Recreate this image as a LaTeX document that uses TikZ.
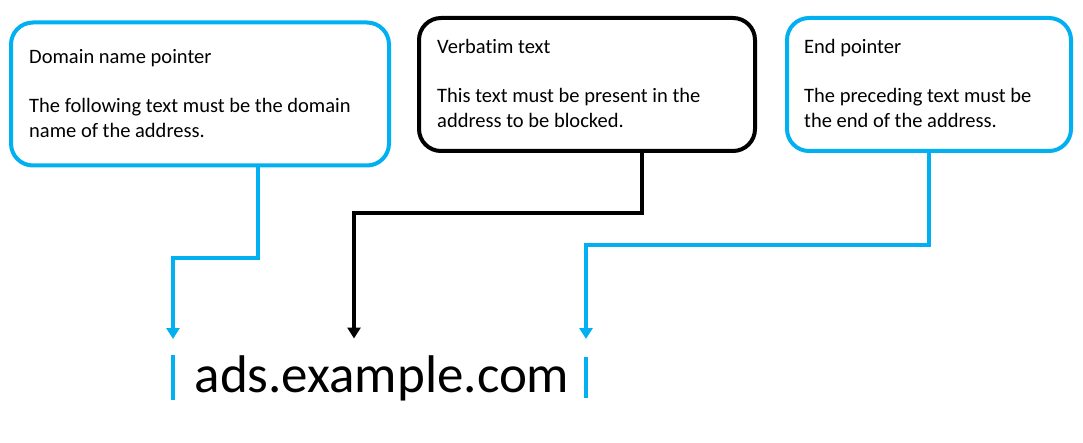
\documentclass[tikz,border=0pt]{standalone}
\usepackage{fontspec}
\setmainfont{Carlito}[Ligatures=NoCommon]
\usetikzlibrary{arrows.meta}
\definecolor{ablue}{HTML}{00B0F0}
\begin{document}
\begin{tikzpicture}[x=1pt,y=-1pt,
  box/.style={draw, line width=4pt, rounded corners=22pt, outer sep=0pt, inner sep=0pt, anchor=north west},
  txt/.style={anchor=base west, inner sep=0pt, font=\fontsize{20.5}{24.5}\selectfont},
  bigtxt/.style={anchor=base west, inner sep=0pt, font=\fontsize{53}{60}\selectfont},
  bcon/.style={draw=ablue, line width=3.8pt, -{Triangle[width=13pt,length=11pt]}},
  kcon/.style={draw=black, line width=3.8pt, -{Triangle[width=13pt,length=11pt]}},
  bar/.style={fill=ablue, minimum width=3.5pt, inner sep=0pt, outer sep=0pt}]
\fill[white] (0,0) rectangle (1083,443);
\useasboundingbox (0,0) rectangle (1083,443);
% boxes
\node[box, draw=ablue, minimum width=378pt, minimum height=143pt] (b1) at (11,22.5) {};
\node[box, draw=black, minimum width=336pt, minimum height=133pt] (b2) at (419,18) {};
\node[box, draw=ablue, minimum width=284pt, minimum height=133pt] (b3) at (787,18) {};
% texts
\node[txt] (t1a) at (29,64) {Domain name pointer};
\node[txt] (t1b) at (29,113) {The following text must be the domain};
\node[txt] (t1c) at (29,137.5) {name of the address.};
\node[txt] (t2a) at (437,53.5) {Verbatim text};
\node[txt] (t2b) at (437,103) {This text must be present in the};
\node[txt] (t2c) at (437,127.5) {address to be blocked.};
\node[txt] (t3a) at (804,54) {End pointer};
\node[txt] (t3b) at (804,103) {The preceding text must be};
\node[txt] (t3c) at (804,127.5) {the end of the address.};
% address
\node[bigtxt] (url) at (194.5,392) {ads.example.com};
\node[bar, minimum height=45pt] (barL) at (173,377.5) {};
\node[bar, minimum height=41pt] (barR) at (586,377.5) {};
% connectors
\coordinate (k1) at (173,258);
\coordinate (k2) at (354,213);
\coordinate (t2) at (354,338.5);
\coordinate (k3) at (586,245);
\draw[bcon, shorten >=16pt] ([xshift=247pt]b1.south west) |- (k1) -- (barL.north);
\draw[kcon] ([xshift=223pt]b2.south west) |- (k2) -- (t2);
\draw[bcon, shorten >=18pt] ([xshift=142pt]b3.south west) |- (k3) -- (barR.north);
\end{tikzpicture}
\end{document}
